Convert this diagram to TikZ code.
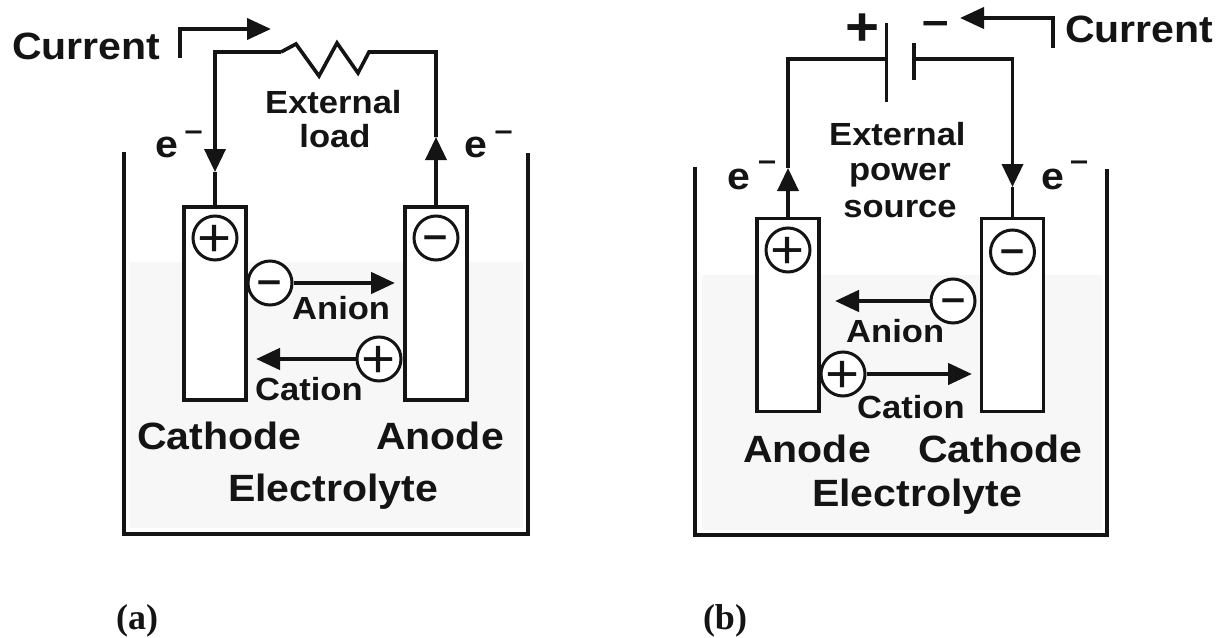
\documentclass[tikz,border=0pt]{standalone}
\usepackage{fontspec}
\usetikzlibrary{arrows.meta}
\newfontfamily\lab[FakeStretch=1.08]{Liberation Sans}
\newfontfamily\capf{Liberation Serif}
\definecolor{ink}{gray}{0.08}
\newcommand{\plussign}{\smash{\raisebox{-.35em}{+}}}
\newcommand{\minussign}{\smash{\raisebox{-.27em}{–}}}
\tikzset{
  x=1pt,y=-1pt,
  wire/.style={draw=ink,line width=3.6pt,line join=miter},
  bigtip/.style={-{Triangle[length=23pt,width=21pt]}},
  ionline/.style={draw=ink,line width=4.6pt,-{Triangle[length=24pt,width=21pt]},shorten >=0pt},
  bigtxt/.style={anchor=base west,inner sep=0pt,text=ink,font=\lab\bfseries\fontsize{38}{38}\selectfont},
  smalltxt/.style={anchor=base west,inner sep=0pt,text=ink,font=\lab\bfseries\fontsize{32}{32}\selectfont},
  suptxt/.style={anchor=base west,inner sep=0pt,text=ink,font=\lab\bfseries\fontsize{30}{30}\selectfont},
  ecirc/.style={circle,draw=ink,fill=white,line width=3pt,minimum size=44pt,inner sep=0pt,text=ink},
  pluscirc/.style={ecirc,font=\lab\fontsize{54}{54}\selectfont},
  minuscirc/.style={ecirc,font=\lab\bfseries\fontsize{40}{40}\selectfont},
  electrode/.style={rectangle,draw=ink,fill=white,line width=3.4pt,inner sep=0pt,outer sep=0pt,minimum width=62pt,minimum height=193pt},
  tint/.style={fill=black!3,draw=none},
  caption/.style={anchor=base,inner sep=0pt,text=ink,font=\capf\bfseries\fontsize{36}{36}\selectfont}
}
\begin{document}
\begin{tikzpicture}
\useasboundingbox (0,0) rectangle (1220,637);
% electrolyte tints
\fill[tint] (130,262) rectangle (523,528);
\fill[tint] (702,275) rectangle (1102,530);
% beakers
\coordinate (aTL) at (124,152); \coordinate (aBL) at (124,534); \coordinate (aBR) at (528,534); \coordinate (aTR) at (528,153);
\draw[wire] (aTL) -- (aBL) -- (aBR) -- (aTR);
\coordinate (bTL) at (695,167); \coordinate (bBL) at (695,535); \coordinate (bBR) at (1107,535); \coordinate (bTR) at (1107,169);
\draw[wire] (bTL) -- (bBL) -- (bBR) -- (bTR);

% --- panel (a)
\node[electrode] (aCat) at (215,303.5) {};
\node[electrode] (aAn) at (436,303.5) {};
\coordinate (aWL) at (215,52); \coordinate (aWR) at (436,52);
\coordinate (aR0) at (281,52); \coordinate (aR1) at (296,44); \coordinate (aR2) at (319,76); \coordinate (aR3) at (337,43); \coordinate (aR4) at (358,73); \coordinate (aR5) at (369,52);
\coordinate (aTipL) at (215,172); \coordinate (aTipR) at (436,137);
\draw[wire] (aR0) -- (aR1) -- (aR2) -- (aR3) -- (aR4) -- (aR5) -- (aWR) -- (aTipR);
\draw[wire,bigtip] (aAn.north) -- (aTipR);
\draw[wire,bigtip] (aR0) -- (aWL) -- (aTipL);
\draw[wire] (aTipL) -- (aCat.north);
\coordinate (aC0) at (180,58); \coordinate (aC1) at (180,29); \coordinate (aC2) at (271,29);
\draw[ionline,line width=4pt] (aC0) -- (aC1) -- (aC2);
\node[bigtxt] (aCurrent) at (12,59) {Current};
\node[smalltxt] (aExt) at (265,113) {External};
\node[smalltxt,anchor=base] (aLoad) at (335,147) {load};
\node[bigtxt] (aE1) at (155,157) {e};
\node[suptxt] (aE1m) at (184.5,140) {–};
\node[bigtxt] (aE2) at (464,157) {e};
\node[suptxt] (aE2m) at (494.5,140) {–};
\node[pluscirc] (aP) at (215,238) {\plussign};
\node[minuscirc] (aM) at (436,238) {\minussign};
\node[minuscirc] (aAnion) at (270,283) {\minussign};
\coordinate (aAT) at (395,283);
\draw[ionline] (aAnion.east) -- (aAT);
\node[pluscirc] (aCation) at (379,359) {\plussign};
\coordinate (aCT) at (256,359);
\draw[ionline] (aCation.west) -- (aCT);
\node[smalltxt] (aAl) at (292,319) {Anion};
\node[smalltxt] (aCl) at (255,400) {Cation};
\node[bigtxt] (aCa) at (137,449) {Cathode};
\node[bigtxt] (aAo) at (376,449) {Anode};
\node[bigtxt] (aEl) at (228,501) {Electrolyte};
\node[caption] (aCap) at (137,629) {(a)};

% --- panel (b)
\node[electrode] (bAn) at (788,315) {};
\node[electrode] (bCat) at (1012.5,315) {};
\coordinate (bWL) at (788,59); \coordinate (bWR) at (1012.5,59);
\coordinate (bP1) at (886.5,23); \coordinate (bP2) at (886.5,102); \coordinate (bP0) at (886.5,59);
\coordinate (bQ1) at (914,43); \coordinate (bQ2) at (914,80); \coordinate (bQ0) at (914,59);
\draw[wire] (bP1) -- (bP2);
\draw[wire,line width=4.2pt] (bQ1) -- (bQ2);
\coordinate (bTipL) at (788,168); \coordinate (bTipR) at (1012.5,187);
\draw[wire,bigtip] (bAn.north) -- (bTipL);
\draw[wire] (bTipL) -- (bWL) -- (bP0);
\draw[wire,bigtip] (bQ0) -- (bWR) -- (bTipR);
\draw[wire] (bTipR) -- (bCat.north);
\coordinate (bC0) at (1052.5,48); \coordinate (bC1) at (1052.5,18); \coordinate (bC2) at (960,18);
\draw[ionline,line width=4pt] (bC0) -- (bC1) -- (bC2);
\node[bigtxt] (bCurrent) at (1065,42) {Current};
\node[anchor=center,inner sep=0pt,text=ink,font=\lab\bfseries\fontsize{54}{54}\selectfont] (bPlus) at (862.5,27) {\plussign};
\node[anchor=center,inner sep=0pt,text=ink,font=\lab\bfseries\fontsize{44}{44}\selectfont] (bMinus) at (936,24) {\minussign};
\node[smalltxt] (bExt) at (829,145) {External};
\node[smalltxt,anchor=base] (bPow) at (900,180) {power};
\node[smalltxt,anchor=base] (bSrc) at (900,217) {source};
\node[bigtxt] (bE1) at (727,189) {e};
\node[suptxt] (bE1m) at (758,170) {–};
\node[bigtxt] (bE2) at (1041,189) {e};
\node[suptxt] (bE2m) at (1070,170) {–};
\node[pluscirc] (bP) at (788,250) {\plussign};
\node[minuscirc] (bM) at (1012.5,252) {\minussign};
\node[minuscirc] (bAnion) at (953,301) {\minussign};
\coordinate (bAT) at (835,301);
\draw[ionline] (bAnion.west) -- (bAT);
\node[pluscirc] (bCation) at (843,374) {\plussign};
\coordinate (bCT) at (972,374);
\draw[ionline] (bCation.east) -- (bCT);
\node[smalltxt] (bAl) at (846,342) {Anion};
\node[smalltxt] (bCl) at (857,418) {Cation};
\node[bigtxt] (bAo) at (743,462) {Anode};
\node[bigtxt] (bCa) at (918,462) {Cathode};
\node[bigtxt] (bEl) at (812,506) {Electrolyte};
\node[caption] (bCap) at (725,629) {(b)};
\end{tikzpicture}
\end{document}
